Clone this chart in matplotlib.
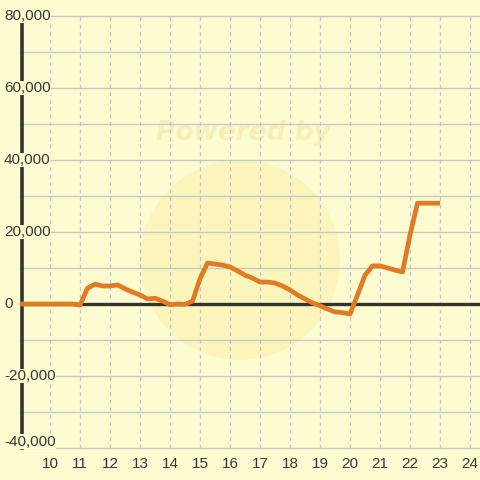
import matplotlib
matplotlib.use("Agg")
import matplotlib.pyplot as plt
import matplotlib.transforms as mtransforms
from matplotlib.patches import Ellipse

# valores
x = [9, 10, 10.75, 11, 11.25, 11.5, 11.75, 12, 12.25, 12.5, 12.75, 13, 13.25,
     13.5, 13.75, 14, 14.25, 14.5, 14.75, 15, 15.25, 15.5, 15.75, 16, 16.25,
     16.5, 16.75, 17, 17.25, 17.5, 17.75, 18, 18.25, 18.5, 18.75, 19, 19.25,
     19.5, 19.75, 20, 20.25, 20.5, 20.75, 21, 21.25, 21.5, 21.75, 22, 22.25,
     22.5, 22.75, 23]
y = [0, 0, 0, -300, 4400, 5500, 5000, 5000, 5300, 4200, 3300, 2500, 1400,
     1600, 800, -200, 0, -100, 800, 7000, 11400, 11100, 10800, 10300, 9200,
     8000, 7200, 6100, 6100, 5800, 5000, 3900, 2500, 1400, 300, -500, -1400,
     -2200, -2400, -2800, 2500, 8000, 10600, 10600, 10000, 9400, 8900, 19200,
     28000, 28000, 28000, 28000]

y_ticks = [80000, 60000, 40000, 20000, 0, -20000, -40000]
y_labels = ["80,000", "60,000", "40,000", "20,000", "0", "-20,000", "-40,000"]
x_ticks = list(range(10, 25))

bg = "#fcfcd0"
fig = plt.figure(figsize=(4.8, 4.8), dpi=100, facecolor=bg)
ax = fig.add_axes([0, 0, 1, 1])
ax.set_facecolor(bg)
ax.set_xlim(8.333, 24.333)
ax.set_ylim(-48889, 84444)
ax.axis("off")

# marca de agua (muy tenue)
ax.add_patch(Ellipse((240 / 480, 1 - 260 / 480), 200 / 480, 200 / 480,
                     transform=fig.transFigure, facecolor="#fbf3b4",
                     edgecolor="none", alpha=0.7, zorder=0.5))
ax.text(243 / 480, 1 - 133 / 480, "Powered by", transform=fig.transFigure,
        ha="center", va="center", fontsize=19, fontweight="bold",
        fontstyle="italic", color="#f7efb8", zorder=0.6)

# grilla
for v in range(-40000, 80001, 10000):
    ax.plot([9, 24.333], [v, v], color="#c8c8c8", lw=1, zorder=1)
ax.vlines(x_ticks, -40000, 80000, colors="#c4c4c4", linestyles=(0, (3, 3)),
          lw=0.9, zorder=1)

ax.plot([9.05, 24.333], [0, 0], color="#333333", lw=2.4, zorder=2)
ax.plot([9.05, 9.05], [-40000, 80000], color="#333333", lw=2.6, zorder=2)

ax.plot(x, y, color="#e07b24", lw=3.4, solid_joinstyle="round",
        solid_capstyle="butt", zorder=3)

trans = mtransforms.blended_transform_factory(ax.transAxes, ax.transData)
for v, lab in zip(y_ticks, y_labels):
    ypos = v + 1700 if v == -40000 else v
    ax.text(4 / 480, ypos, lab, transform=trans, ha="left", va="center",
            fontsize=11, family="Liberation Sans", color="#383838",
            bbox=dict(facecolor=bg, edgecolor="none", pad=0.3), zorder=4)

for t in x_ticks:
    ax.text(t, -44400, str(t), ha="center", va="center", fontsize=11,
            family="Liberation Sans", color="#383838", zorder=4)

fig.savefig("out.png", dpi=100, facecolor=bg)
